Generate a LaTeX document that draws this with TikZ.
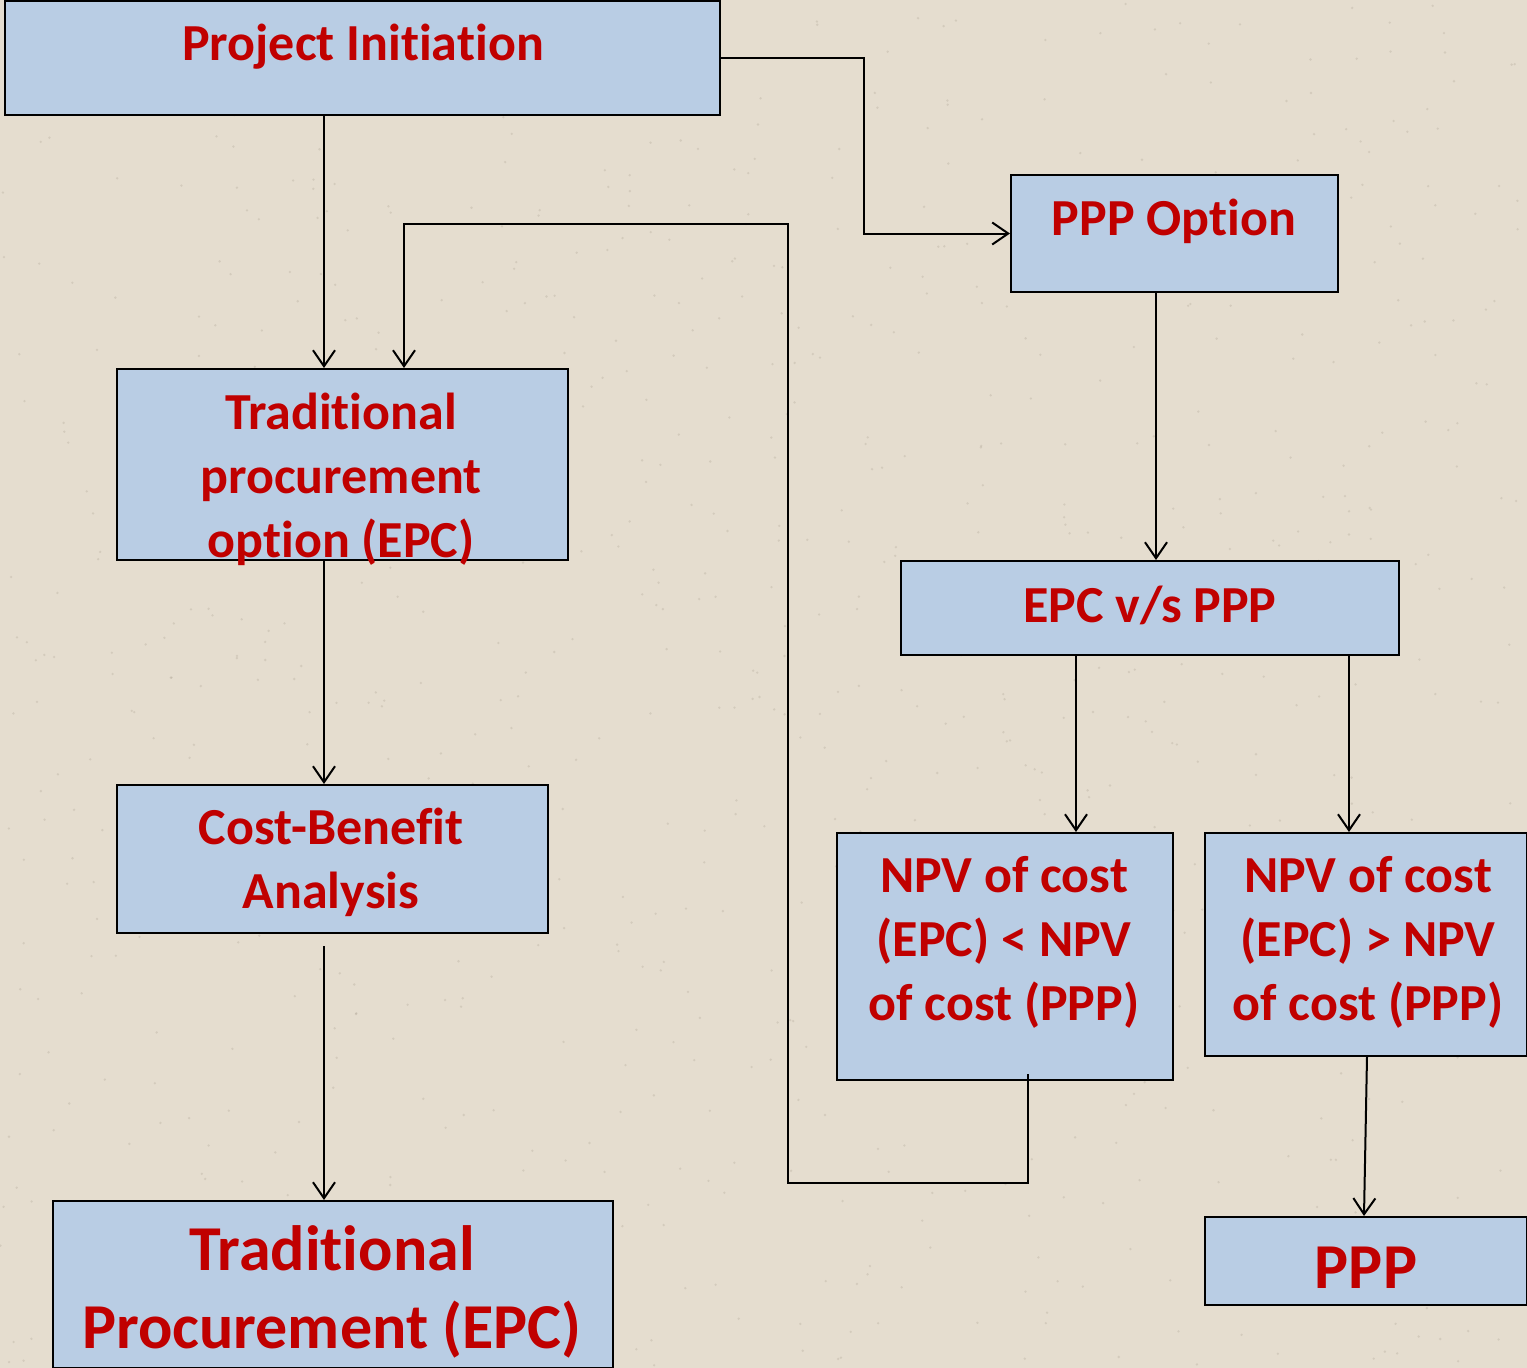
\documentclass[tikz,border=0pt]{standalone}
\usepackage{fontspec}
\setmainfont{Carlito}[Ligatures={NoCommon}]
\usetikzlibrary{arrows.meta,calc}
\definecolor{bg}{RGB}{229,221,207}
\definecolor{bgdot}{RGB}{150,140,125}
\definecolor{boxfill}{RGB}{185,205,228}
\definecolor{txtred}{RGB}{192,0,0}
\tikzset{
  box/.style={draw=black, line width=2pt, fill=boxfill, inner sep=0pt, anchor=north west},
  lbl/.style={text=txtred, font=\bfseries\fontsize{52}{64}\selectfont, align=center, inner sep=0pt},
  biglbl/.style={text=txtred, font=\bfseries\fontsize{64}{78}\selectfont, align=center, inner sep=0pt},
  arr/.style={draw=black, line width=2pt, -{Straight Barb[length=16pt,width=22pt,line width=2pt]}},
}
\begin{document}
\begin{tikzpicture}[x=1pt,y=-1pt]
\useasboundingbox (0,0) rectangle (1527,1368);
\fill[bg] (0,0) rectangle (1527,1368);
\pgfmathsetseed{11}
\foreach \i in {1,...,900}{
  \fill[bgdot,opacity=0.22] ({rnd*1527},{rnd*1368}) circle (1.3pt);
}
% boxes
\node[box, minimum width=715pt, minimum height=114pt] (pi) at (4,0) {};
\node[box, minimum width=327pt, minimum height=117pt] (ppo) at (1010,174) {};
\node[box, minimum width=451pt, minimum height=191pt] (tpo) at (116,368) {};
\node[box, minimum width=498pt, minimum height=94pt] (evp) at (900,560) {};
\node[box, minimum width=431pt, minimum height=148pt] (cba) at (116,784) {};
\node[box, minimum width=336pt, minimum height=247pt] (npl) at (836,832) {};
\node[box, minimum width=322pt, minimum height=223pt] (npr) at (1204,832) {};
\node[box, minimum width=560pt, minimum height=167pt] (tpe) at (52,1200) {};
\node[box, minimum width=322pt, minimum height=88pt] (ppp) at (1204,1216) {};
% texts
\node[lbl] (pit) at (363,47) {Project Initiation};
\node[lbl] (ppot) at (1174,221) {PPP Option};
\node[lbl] (tpot) at (341,479) {Traditional\\procurement\\option (EPC)};
\node[lbl] (evpt) at (1150,605) {EPC v/s PPP};
\node[lbl] (cbat) at (331,862) {Cost-Benefit\\Analysis};
\node[lbl] (nplt) at (1004,942) {NPV of cost\\(EPC) < NPV\\of cost (PPP)};
\node[lbl] (nprt) at (1368,942) {NPV of cost\\(EPC) > NPV\\of cost (PPP)};
\node[biglbl] (tpet) at (332,1292) {Traditional\\Procurement (EPC)};
\node[biglbl] (pppt) at (1366,1268) {PPP};
% column coordinates
\coordinate (c324) at (324,0);
\coordinate (c864) at (864,0);
\coordinate (c1156) at (1156,0);
\coordinate (c1076) at (1076,0);
\coordinate (c1349) at (1349,0);
\coordinate (c1367) at (1367,0);
\coordinate (c1364) at (1364,0);
\coordinate (b1) at (1028,1183);
\coordinate (b2) at (788,1183);
\coordinate (b3) at (788,224);
\coordinate (b4) at (404,224);
% connectors
\draw[arr] (pi.south -| c324) -- (tpo.north -| c324);
\draw[arr] (pi.east) -- (pi.east -| c864) -- (ppo.west -| c864) -- (ppo.west);
\draw[arr] ($(ppo.south -| c1156)+(0,-2)$) -- (evp.north -| c1156);
\draw[arr] (tpo.south -| c324) -- (cba.north -| c324);
\draw[arr] ($(cba.south -| c324)+(0,12)$) -- (tpe.north -| c324);
\draw[arr] (evp.south -| c1076) -- (npl.north -| c1076);
\draw[arr] (evp.south -| c1349) -- (npr.north -| c1349);
\draw[arr] (npr.south -| c1367) -- (ppp.north -| c1364);
\draw[arr, line width=1.6pt] ($(npl.south -| b1)+(0,-7)$) -- (b1) -- (b2) -- (b3) -- (b4) -- (tpo.north -| b4);
\end{tikzpicture}
\end{document}
